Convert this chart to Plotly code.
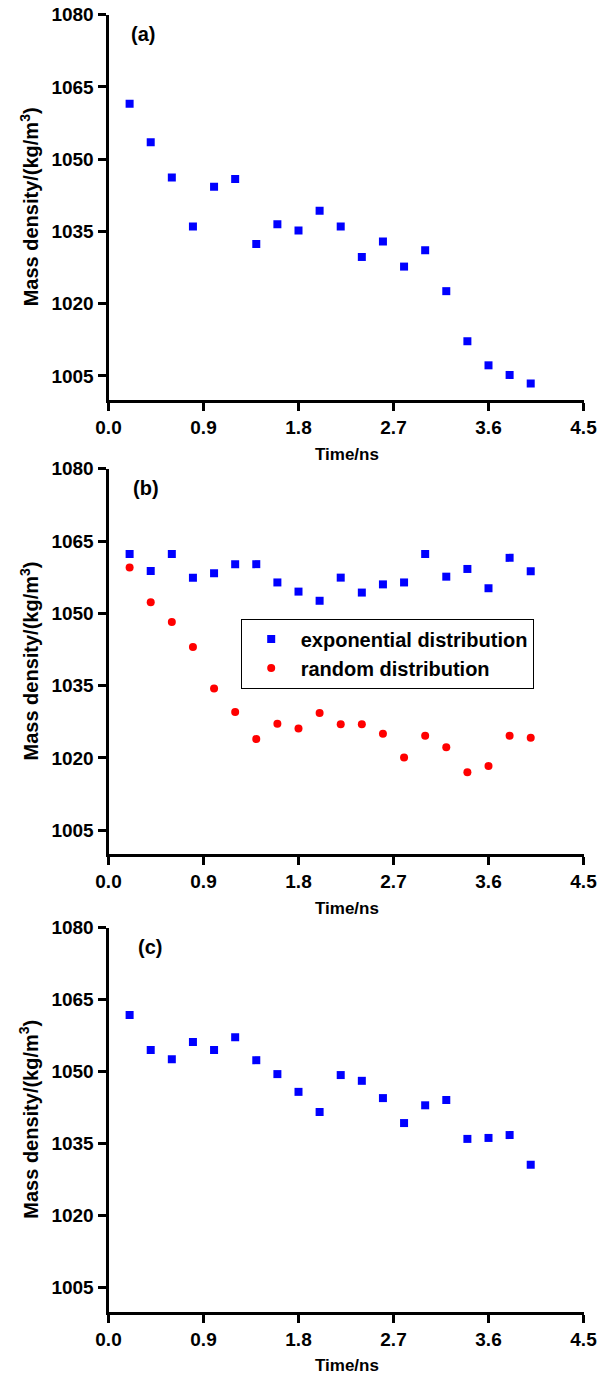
import plotly.graph_objects as go

# Simulation time (ns) shared by all three panels
time_ns = [0.2, 0.4, 0.6, 0.8, 1.0, 1.2, 1.4, 1.6, 1.8, 2.0,
           2.2, 2.4, 2.6, 2.8, 3.0, 3.2, 3.4, 3.6, 3.8, 4.0]

# Mass density (kg/m^3)
density_a = [1061.5, 1053.5, 1046.2, 1036.0, 1044.3, 1045.9, 1032.4, 1036.5, 1035.2, 1039.3,
             1036.0, 1029.7, 1032.9, 1027.7, 1031.1, 1022.6, 1012.2, 1007.2, 1005.2, 1003.4]
density_b_exp = [1062.3, 1058.8, 1062.3, 1057.4, 1058.3, 1060.2, 1060.2, 1056.4, 1054.5, 1052.6,
                 1057.4, 1054.3, 1056.0, 1056.4, 1062.3, 1057.6, 1059.2, 1055.2, 1061.5, 1058.7]
density_b_rand = [1059.5, 1052.3, 1048.2, 1043.0, 1034.4, 1029.5, 1023.9, 1027.1, 1026.1, 1029.3,
                  1027.0, 1027.0, 1025.0, 1020.1, 1024.6, 1022.2, 1017.0, 1018.3, 1024.6, 1024.2]
density_c = [1061.8, 1054.5, 1052.6, 1056.2, 1054.5, 1057.2, 1052.4, 1049.5, 1045.8, 1041.6,
             1049.3, 1048.1, 1044.5, 1039.3, 1043.0, 1044.1, 1036.0, 1036.2, 1036.8, 1030.6]

x_ticks = [0, 0.9, 1.8, 2.7, 3.6, 4.5]
x_tick_text = ["0.0", "0.9", "1.8", "2.7", "3.6", "4.5"]
y_ticks = [1005, 1020, 1035, 1050, 1065, 1080]
x_range = [0, 4.5]
y_range = [1000, 1080]

panel_labels = ["(a)", "(b)", "(c)"]
legend_names = ["exponential distribution", "random distribution"]
x_title = "Time/ns"
y_title = "Mass density/(kg/m<sup>3</sup>)"

W, H = 602, 1377
FONT = "Liberation Sans, Arial, sans-serif"
BLUE = "#0000ff"
RED = "#ff0000"


def px_x(p):
    return p / W


def px_y(p):
    return 1 - p / H


# plot-area geometry in pixels
left_px, right_px = 108.5, 583.5
panels_px = [(14.7, 400.0), (468.7, 854.3), (927.7, 1311.7)]
label_x_px = [143, 146, 150]

fig = go.Figure()

sq = dict(symbol="square", size=8, color=BLUE)
circ = dict(symbol="circle", size=8, color=RED)

fig.add_trace(go.Scatter(x=time_ns, y=density_a, mode="markers", marker=sq,
                         xaxis="x", yaxis="y", showlegend=False))
fig.add_trace(go.Scatter(x=time_ns, y=density_b_exp, mode="markers", marker=sq,
                         name=legend_names[0], xaxis="x2", yaxis="y2", showlegend=True))
fig.add_trace(go.Scatter(x=time_ns, y=density_b_rand, mode="markers", marker=circ,
                         name=legend_names[1], xaxis="x2", yaxis="y2", showlegend=True))
fig.add_trace(go.Scatter(x=time_ns, y=density_c, mode="markers", marker=sq,
                         xaxis="x3", yaxis="y3", showlegend=False))

tickfont = dict(family=FONT, size=19, color="black", weight="bold")
common = dict(showgrid=False, zeroline=False, showline=True, linecolor="black",
              linewidth=3, tickwidth=3, ticklen=8, tickcolor="black", tickfont=tickfont,
              automargin=False)

layout = dict(
    width=W, height=H,
    autosize=False,
    margin=dict(l=0, r=0, t=0, b=0, pad=0, autoexpand=False),
    paper_bgcolor="white", plot_bgcolor="white",
    showlegend=True,
    legend=dict(x=px_x(240.7), y=px_y(618.5), xanchor="left", yanchor="top",
                bgcolor="white", bordercolor="black", borderwidth=1,
                font=dict(family=FONT, size=20, color="black", weight="bold"),
                itemwidth=49, tracegroupgap=0),
)

annotations = []
for i, (top, bot) in enumerate(panels_px):
    n = i + 1
    sx = "" if n == 1 else str(n)
    ydom = [px_y(bot), px_y(top)]
    xdom = [px_x(left_px), px_x(right_px)]
    # bottom / left axes with outward ticks
    layout["xaxis" + sx] = dict(domain=xdom, anchor="y" + sx, range=x_range,
                                tickvals=x_ticks, ticktext=x_tick_text,
                                ticks="outside", **common)
    layout["yaxis" + sx] = dict(domain=ydom, anchor="x" + sx, range=y_range,
                                tickvals=y_ticks, ticks="outside", **common)
    # top / right frame with inward ticks
    m = n + 3
    layout["xaxis" + str(m)] = dict(overlaying="x" + sx, anchor="y" + sx, side="top",
                                    range=x_range, tickvals=x_ticks, ticks="inside",
                                    showticklabels=False, **common)
    layout["yaxis" + str(m)] = dict(overlaying="y" + sx, anchor="x" + sx, side="right",
                                    range=y_range, tickvals=y_ticks, ticks="inside",
                                    showticklabels=False, **common)

    mid = (top + bot) / 2
    annotations.append(dict(text=y_title, x=px_x(29), y=px_y(mid), xref="paper", yref="paper",
                            xanchor="center", yanchor="middle", textangle=-90, showarrow=False,
                            font=dict(family=FONT, size=20, color="black", weight="bold")))
    annotations.append(dict(text=x_title, x=px_x(347), y=px_y(bot + 54), xref="paper", yref="paper",
                            xanchor="center", yanchor="middle", showarrow=False,
                            font=dict(family=FONT, size=17, color="black", weight="bold")))
    annotations.append(dict(text=panel_labels[i], x=px_x(label_x_px[i]), y=px_y(top + 19),
                            xref="paper", yref="paper", xanchor="center", yanchor="middle",
                            showarrow=False,
                            font=dict(family=FONT, size=20, color="black", weight="bold")))

layout["annotations"] = annotations
fig.update_layout(**layout)

fig.write_html("out.html")
